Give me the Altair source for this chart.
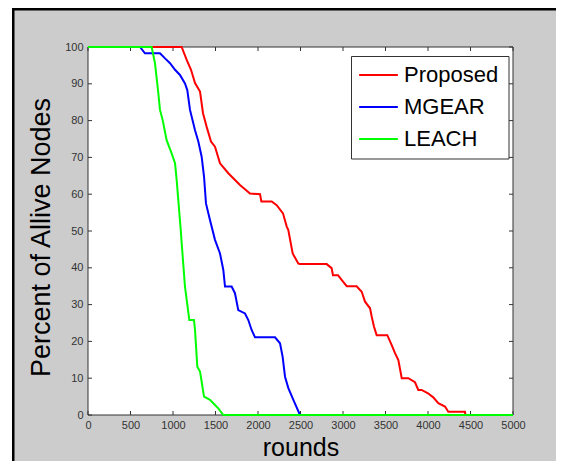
import altair as alt
import pandas as pd

series = ["Proposed", "MGEAR", "LEACH"]
colors = ["#ff0000", "#0000ff", "#00ff00"]

proposed_x = [0, 1102, 1161, 1212, 1259, 1318, 1353, 1396, 1447, 1494, 1553, 1651, 1788, 1906,
              2024, 2040, 2161, 2220, 2294, 2338, 2356, 2408, 2474, 2490, 2808, 2866, 2882, 2941,
              2984, 3044, 3160, 3220, 3259, 3318, 3338, 3365, 3396, 3521, 3573, 3612, 3651, 3691,
              3769, 3847, 3886, 3925, 4000, 4062, 4121, 4200, 4239, 4435, 4440, 5000]
proposed_y = [100, 100, 96.5, 93.8, 90.2, 87.9, 82, 78.3, 74.3, 72.9, 68.4, 65.7, 62.5, 60.2,
              60, 58, 58, 57, 54.8, 51.2, 50.3, 43.9, 41.2, 41, 41, 39.9, 38, 38,
              36.7, 35, 35, 33.5, 30.8, 29, 26.7, 24, 21.7, 21.7, 19, 16.8, 14.9, 10,
              10, 8.9, 6.8, 6.8, 5.9, 4.8, 3.2, 2.3, 0.9, 0.9, 0, 0]

mgear_x = [0, 612, 670, 847, 906, 965, 1024, 1082, 1141, 1168, 1200, 1259, 1298, 1337, 1365,
           1388, 1435, 1494, 1553, 1592, 1612, 1690, 1729, 1768, 1847, 1886, 1925, 1965, 2200,
           2259, 2290, 2318, 2357, 2416, 2494, 5000]
mgear_y = [100, 100, 98.3, 98.3, 96.9, 95.6, 93.8, 92.4, 90.1, 88.3, 82.9, 77.4, 74.3, 70.2, 64.8,
           57.5, 53, 47.6, 43.9, 39.4, 34.9, 34.9, 33.1, 28.5, 27.6, 25.8, 23.1, 21.1, 21.1,
           19.5, 15.8, 10.4, 7.3, 4.1, 0, 0]

leach_x = [0, 749, 788, 827, 847, 878, 925, 984, 1024, 1043, 1092, 1102, 1141, 1192, 1247, 1259,
           1286, 1318, 1365, 1435, 1494, 1533, 1592, 5000]
leach_y = [100, 100, 95.6, 87.5, 82.9, 80.2, 74.7, 71.1, 68.4, 63.9, 50, 46.7, 34.9, 25.8, 25.8, 23.1,
           13.1, 11.8, 5, 4.1, 2.7, 1.8, 0, 0]

x_ticks = [0, 500, 1000, 1500, 2000, 2500, 3000, 3500, 4000, 4500, 5000]
y_ticks = [0, 10, 20, 30, 40, 50, 60, 70, 80, 90, 100]

W, H = 425, 368
FONT = "Liberation Sans"

frames = []
for name, xs, ys in zip(series, [proposed_x, mgear_x, leach_x], [proposed_y, mgear_y, leach_y]):
    frames.append(pd.DataFrame({"rounds": xs, "alive": ys, "series": name, "idx": list(range(len(xs)))}))
df = pd.concat(frames, ignore_index=True)

xscale = alt.Scale(domain=[0, 5000], nice=False, zero=False)
yscale = alt.Scale(domain=[0, 100], nice=False, zero=False)

xaxis = alt.Axis(
    values=x_ticks, title="rounds", ticks=False, domain=False, grid=False,
    labelFontSize=11, labelFont=FONT, labelColor="#333333", labelPadding=4,
    labelFlush=False, labelOverlap=False, format="d",
    titleFontSize=25, titleFont=FONT, titleFontWeight="normal", titleColor="black",
    titleBaseline="alphabetic", titleY=40.5, zindex=1,
)
yaxis = alt.Axis(
    values=y_ticks, title="Percent of Allive Nodes", ticks=False, domain=False, grid=False,
    labelFontSize=11, labelFont=FONT, labelColor="#333333", labelPadding=5,
    labelFlush=False, labelOverlap=False, format="d",
    titleFontSize=27, titleFont=FONT, titleFontWeight="normal", titleColor="black",
    titleX=-47, titleY=190, titleAngle=-90, titleBaseline="middle", titleAlign="center", zindex=1,
)

color = alt.Color(
    "series:N",
    scale=alt.Scale(domain=series, range=colors),
    legend=alt.Legend(
        orient="none", legendX=270, legendY=7.5, title=None,
        symbolType="stroke", symbolSize=1500, symbolStrokeWidth=2,
        labelFontSize=22, labelFont=FONT, labelColor="black", labelOffset=5,
        padding=0, rowPadding=-6.5,
    ),
)

one = pd.DataFrame({"a": [0]})

bg = alt.Chart(one).mark_rect(fill="#cccccc", stroke="black", strokeWidth=2.5).encode(
    x=alt.value(-74.75), x2=alt.value(700), y=alt.value(-37.75), y2=alt.value(700)
)
plotbox = alt.Chart(one).mark_rect(fill="white", stroke="#333333", strokeWidth=1).encode(
    x=alt.value(0), x2=alt.value(W), y=alt.value(0), y2=alt.value(H)
)
legendbox = alt.Chart(one).mark_rect(fill="white", stroke="#333333", strokeWidth=1).encode(
    x=alt.value(263.5), x2=alt.value(421), y=alt.value(9.5), y2=alt.value(112)
)

xt = pd.DataFrame({"rounds": x_ticks})
yt = pd.DataFrame({"alive": y_ticks})
tick_style = dict(color="#333333", strokeWidth=1)
xb = alt.Chart(xt).mark_rule(**tick_style).encode(
    x=alt.X("rounds:Q", scale=xscale, axis=xaxis), y=alt.value(H), y2=alt.value(H - 4))
xtp = alt.Chart(xt).mark_rule(**tick_style).encode(
    x=alt.X("rounds:Q", scale=xscale, axis=xaxis), y=alt.value(0), y2=alt.value(4))
yl = alt.Chart(yt).mark_rule(**tick_style).encode(
    y=alt.Y("alive:Q", scale=yscale, axis=yaxis), x=alt.value(0), x2=alt.value(4))
yr = alt.Chart(yt).mark_rule(**tick_style).encode(
    y=alt.Y("alive:Q", scale=yscale, axis=yaxis), x=alt.value(W), x2=alt.value(W - 4))

layers = []
for name in series:
    layers.append(
        alt.Chart(df).transform_filter(alt.datum.series == name).mark_line(strokeWidth=2).encode(
            x=alt.X("rounds:Q", scale=xscale, axis=xaxis),
            y=alt.Y("alive:Q", scale=yscale, axis=yaxis),
            color=color,
            order=alt.Order("idx:Q"),
        )
    )

chart = alt.layer(bg, plotbox, xb, xtp, yl, yr, legendbox, *layers).properties(
    width=W, height=H,
    autosize=alt.AutoSizeParams(type="none"),
    padding={"left": 80, "top": 39, "right": 43, "bottom": 46},
    background="white",
).configure_view(strokeWidth=0)

chart.save("out.html", embed_options={"renderer": "svg", "actions": False})
